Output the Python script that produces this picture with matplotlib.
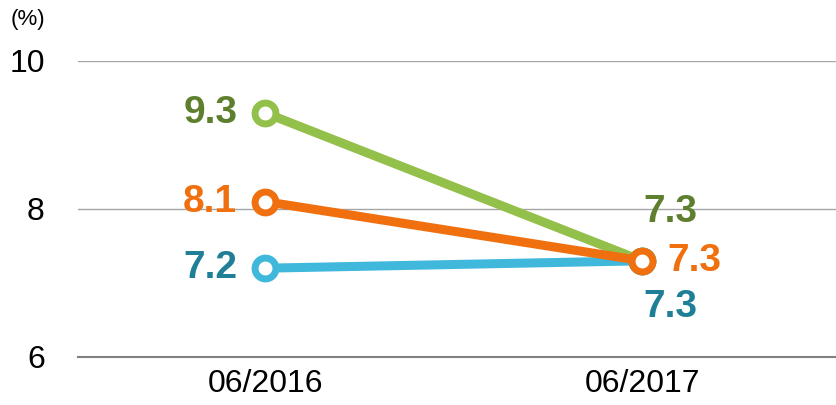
import matplotlib.pyplot as plt

plt.rcParams["font.family"] = ["Liberation Sans", "DejaVu Sans"]

periods = ["06/2016", "06/2017"]
green_vals = [9.3, 7.3]
blue_vals = [7.2, 7.3]
orange_vals = [8.1, 7.3]

fig = plt.figure(figsize=(8.36, 4.05), dpi=100)
ax = fig.add_axes([78 / 836, 48 / 405, 758 / 836, 296 / 405])

x = list(range(len(periods)))
series = [
    (green_vals, "#92c04a", "#5e7f2e"),
    (blue_vals, "#40b8dc", "#1f7f96"),
    (orange_vals, "#f07010", "#f07010"),
]
for vals, line_c, text_c in series:
    ax.plot(x, vals, color=line_c, lw=6.5, marker="o", ms=15, mfc="white",
            mec=line_c, mew=5, solid_capstyle="butt", zorder=3)
    ax.annotate(f"{vals[0]:.1f}", (x[0], vals[0]), xytext=(-20, 0),
                textcoords="offset points", ha="right", va="center",
                fontsize=28, fontweight="bold", color=text_c)

# labels at 06/2017 (overlapping values, spread out)
ax.annotate(f"{green_vals[1]:.1f}", (x[1], green_vals[1]), xytext=(20, 35),
            textcoords="offset points", ha="center", va="center",
            fontsize=28, fontweight="bold", color="#5e7f2e")
ax.annotate(f"{orange_vals[1]:.1f}", (x[1], orange_vals[1]), xytext=(18, 0),
            textcoords="offset points", ha="left", va="center",
            fontsize=28, fontweight="bold", color="#f07010")
ax.annotate(f"{blue_vals[1]:.1f}", (x[1], blue_vals[1]), xytext=(20, -33),
            textcoords="offset points", ha="center", va="center",
            fontsize=28, fontweight="bold", color="#1f7f96")

ax.set_xlim(-0.496, 1.514)
ax.set_ylim(6, 10)
ax.set_yticks([6, 8, 10])
ax.set_xticks(x)
ax.set_xticklabels(periods)
ax.tick_params(axis="both", length=0, labelsize=23)
ax.tick_params(axis="y", pad=24)
ax.tick_params(axis="x", pad=9)
ax.grid(axis="y", color="#a6a6a6", lw=1)
ax.set_axisbelow(True)
for s in ["top", "right", "left"]:
    ax.spines[s].set_visible(False)
ax.spines["bottom"].set_color("#808080")
ax.spines["bottom"].set_linewidth(1.5)

fig.text(11 / 836, 1 - 20 / 405, "(%)", fontsize=16, va="center", ha="left")

fig.savefig("out.png", dpi=100)
